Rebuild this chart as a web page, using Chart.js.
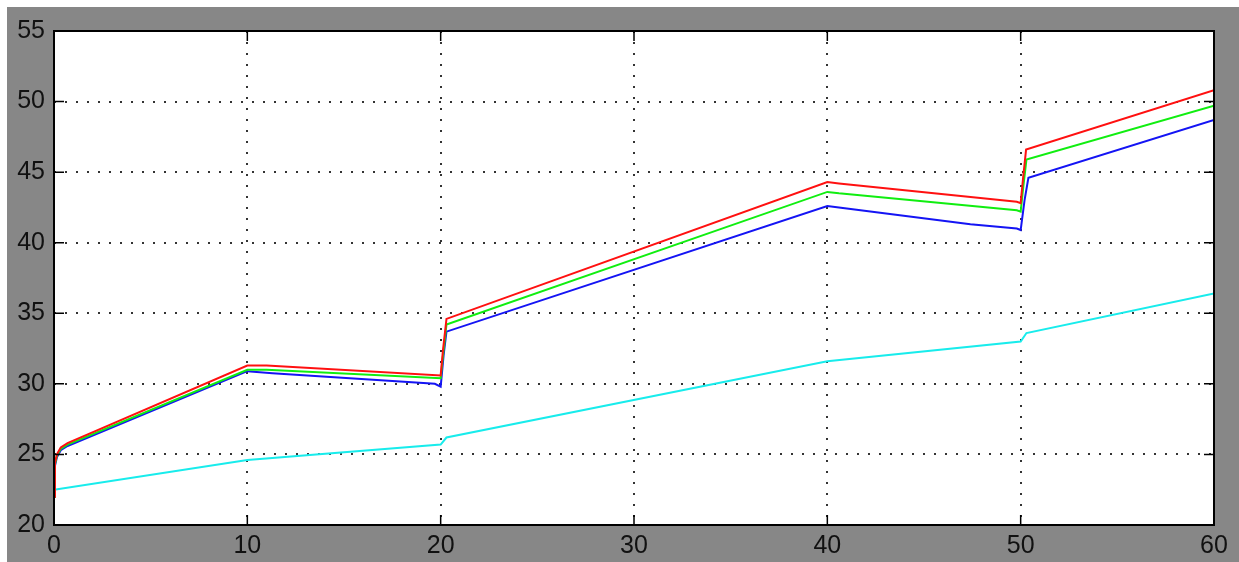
<!DOCTYPE html>
<html>
<head>
<meta charset="utf-8">
<script src="https://cdn.jsdelivr.net/npm/chart.js@4.4.1/dist/chart.umd.min.js"></script>
<style>
  html, body { margin: 0; padding: 0; background: #ffffff; }
  #fundo {
    position: absolute; left: 7px; top: 7px;
    width: 1232px; height: 555px;
    background: #878787;
  }
  #grafico { display: block; }
</style>
</head>
<body>
<div id="fundo"><canvas id="grafico" width="1232" height="555"></canvas></div>
<script>
// ================= DADOS =================
const xTicks = [0, 10, 20, 30, 40, 50, 60];
const yTicks = [20, 25, 30, 35, 40, 45, 50, 55];

const tempoVermelho = [0, 0.05, 0.15, 0.35, 0.7, 10, 11, 20, 20.12, 20.3, 40, 40.6, 49.8, 50.0, 50.12, 50.28, 60];
const vermelho      = [22.0, 24.4, 25.0, 25.5, 25.8, 31.3, 31.3, 30.6, 32.4, 34.6, 44.3, 44.2, 42.9, 42.8, 44.5, 46.6, 50.8];

const tempoVerde = [0, 0.05, 0.15, 0.35, 0.7, 10, 11, 20, 20.12, 20.3, 40, 40.6, 49.8, 50.0, 50.14, 50.3, 60];
const verde      = [22.0, 24.3, 24.9, 25.4, 25.7, 31.0, 31.0, 30.4, 32.0, 34.2, 43.6, 43.5, 42.3, 42.2, 44.0, 45.9, 49.7];

const tempoAzul = [0, 0.05, 0.15, 0.35, 0.7, 10, 11.3, 19.7, 20.0, 20.15, 20.3, 40, 40.6, 47.4, 49.8, 50.0, 50.2, 50.4, 60];
const azul      = [22.0, 24.2, 24.8, 25.3, 25.6, 30.9, 30.75, 30.0, 29.8, 32.0, 33.7, 42.6, 42.5, 41.3, 41.0, 40.9, 43.0, 44.6, 48.7];

const tempoCiano = [0, 10, 20, 20.3, 40, 50, 50.3, 60];
const ciano      = [22.5, 24.6, 25.7, 26.2, 31.6, 33.0, 33.6, 36.4];

// =========================================

function montarPontos(xs, ys) {
  return xs.map((x, i) => ({ x: x, y: ys[i] }));
}

// fundo branco da área + moldura + marcas internas (estilo matlab)
const molduraPlugin = {
  id: "moldura",
  beforeDraw(chart) {
    const a = chart.chartArea;
    const ctx = chart.ctx;
    ctx.save();
    ctx.fillStyle = "#ffffff";
    ctx.fillRect(a.left, a.top, a.right - a.left, a.bottom - a.top);
    ctx.restore();
  },
  afterDraw(chart) {
    const a = chart.chartArea;
    const ctx = chart.ctx;
    const sx = chart.scales.x;
    const sy = chart.scales.y;
    const tam = 10;
    ctx.save();
    ctx.strokeStyle = "#000000";
    ctx.lineWidth = 1.5;
    ctx.beginPath();
    xTicks.forEach(v => {
      const px = sx.getPixelForValue(v);
      ctx.moveTo(px, a.bottom); ctx.lineTo(px, a.bottom - tam);
      ctx.moveTo(px, a.top); ctx.lineTo(px, a.top + tam);
    });
    yTicks.forEach(v => {
      const py = sy.getPixelForValue(v);
      ctx.moveTo(a.left, py); ctx.lineTo(a.left + tam, py);
      ctx.moveTo(a.right, py); ctx.lineTo(a.right - tam, py);
    });
    ctx.stroke();
    ctx.lineWidth = 2;
    ctx.strokeRect(a.left, a.top, a.right - a.left, a.bottom - a.top);
    ctx.restore();
  }
};

const estiloLinha = (cor) => ({
  borderColor: cor,
  backgroundColor: cor,
  borderWidth: 2,
  pointRadius: 0,
  tension: 0,
  fill: false
});

const ctx = document.getElementById("grafico").getContext("2d");

new Chart(ctx, {
  type: "line",
  data: {
    datasets: [
      Object.assign({ label: "vermelho", data: montarPontos(tempoVermelho, vermelho) }, estiloLinha("#ff1010")),
      Object.assign({ label: "verde", data: montarPontos(tempoVerde, verde) }, estiloLinha("#10ee10")),
      Object.assign({ label: "azul", data: montarPontos(tempoAzul, azul) }, estiloLinha("#1414f4")),
      Object.assign({ label: "ciano", data: montarPontos(tempoCiano, ciano) }, estiloLinha("#18ecec"))
    ]
  },
  options: {
    responsive: false,
    animation: false,
    layout: { padding: { top: 20, right: 25, left: 0, bottom: 0 } },
    plugins: {
      legend: { display: false },
      tooltip: { enabled: false }
    },
    scales: {
      x: {
        type: "linear",
        min: 0,
        max: 60,
        afterBuildTicks: s => { s.ticks = xTicks.map(v => ({ value: v })); },
        afterFit: s => { s.height = 37; },
        ticks: {
          color: "#111111",
          font: { family: "'Liberation Sans', Arial, sans-serif", size: 25 },
          padding: 6,
          maxRotation: 0
        },
        grid: { color: "#333333", lineWidth: 2, drawTicks: false },
        border: { display: false, dash: [2, 9] }
      },
      y: {
        type: "linear",
        min: 20,
        max: 55,
        afterBuildTicks: s => { s.ticks = yTicks.map(v => ({ value: v })); },
        afterFit: s => { s.width = 47; },
        ticks: {
          color: "#111111",
          font: { family: "'Liberation Sans', Arial, sans-serif", size: 25 },
          padding: 9
        },
        grid: { color: "#333333", lineWidth: 2, drawTicks: false },
        border: { display: false, dash: [2, 9] }
      }
    }
  },
  plugins: [molduraPlugin]
});
</script>
</body>
</html>
